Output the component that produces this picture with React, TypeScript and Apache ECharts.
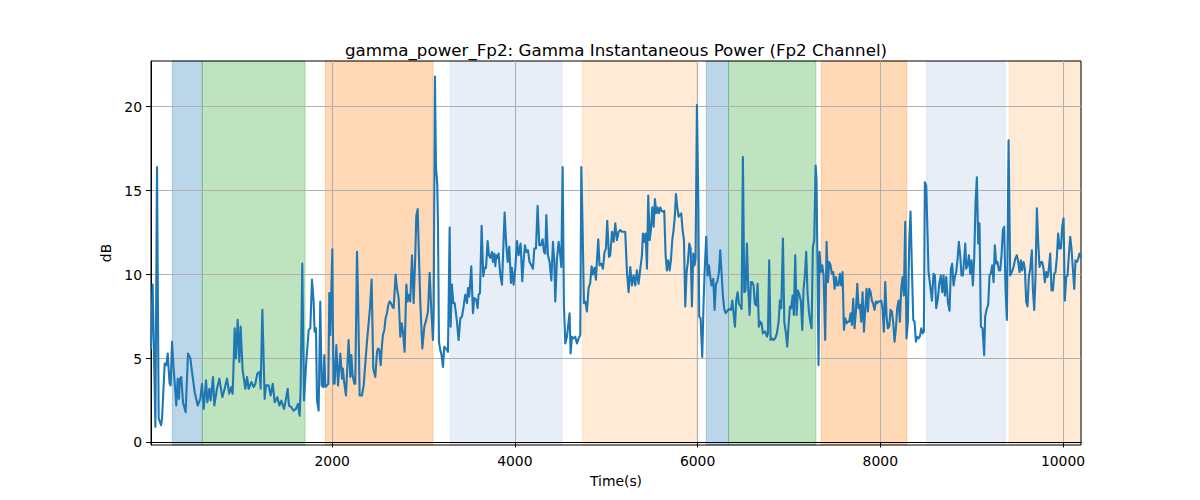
import React, { useEffect, useRef } from "react";
import * as echarts from "echarts";

const TITLE = "gamma_power_Fp2: Gamma Instantaneous Power (Fp2 Channel)";
const X_LABEL = "Time(s)";
const Y_LABEL = "dB";
const X_TICKS = [2000, 4000, 6000, 8000, 10000];
const Y_TICKS = [0, 5, 10, 15, 20];
const X_RANGE = [17, 10197];
const Y_RANGE = [-0.15, 22.72];

const times = [
  17,35,65,83,101,127,138,167,185,200,210,221,232,247,265,294,309,323,334,349,
  367,396,422,448,466,495,528,557,575,594,619,634,656,670,696,710,739,765,798,823,
  849,874,896,911,933,947,966,984,998,1020,1050,1068,1086,1115,1141,1159,1181,1206,1217,1236,
  1261,1276,1305,1327,1349,1371,1400,1422,1443,1473,1495,1513,1527,1553,1578,1604,1626,1644,1655,1673,
  1692,
  1714,1743,1761,1779,1797,1808,1823,1834,1852,1870,1885,1900,1914,1925,1943,1958,1969,1980,1991,2002,
  2009,2016,2027,2046,2064,2089,2108,2118,2129,2151,2180,2199,2210,2224,2243,2253,2272,2283,2301,2326,
  2345,2381,2414,2432,2450,2472,2491,2502,2516,2531,2545,2556,2571,2585,2600,2615,2629,2644,2658,2673,
  2695,2709,2728,2746,2761,2775,2793,2812,2826,2841,2855,2874,2892,2910,2921,2936,2950,2965,2987,3009,
  3030,3049,3067,3081,3103,3111,3125,3136,3151,3158,3169,3184,3198,3213,3227,3246,3268,3286,3297,3311,
  3326,3341,
  3366,3384,3403,3421,3439,3457,3476,3487,3501,3523,3541,3556,3578,3592,3603,3618,3636,3654,3669,3684,
  3702,3716,3731,3749,3760,3775,3786,3797,3811,3822,3840,3859,3877,3888,3902,3921,3939,3957,3968,3986,
  4005,4023,4041,4063,4081,4096,4110,4125,4143,4161,4180,4198,4213,4231,4249,4267,4285,4304,4318,4333,
  4344,4362,4380,4399,4417,4432,4442,4461,4479,4497,4508,4523,4537,4552,4570,4588,4599,4610,4625,4643,
  4661,4680,4698,4716,4727,4741,4756,4771,4789,4807,4825,4840,4855,4873,4887,4902,4913,4927,4946,4964,
  4982,4997,5011,5030,
  5044,5063,5081,5099,5117,5136,5154,5172,5190,5208,5227,5245,5263,5281,5300,5318,5336,5354,5373,5391,
  5402,5416,5431,5446,5460,5475,5489,5504,5519,5533,5548,5562,5577,5592,5606,5621,5635,5650,5664,5679,
  5694,5708,5723,5737,5752,5763,5778,5792,5807,5821,5836,5851,5865,5880,5894,5909,5924,5938,5953,5967,
  5978,5993,6008,6018,6033,6051,6066,6080,6095,6110,6124,6139,6153,6172,6186,6201,6215,6234,6248,6263,
  6277,6292,6307,6321,6343,6365,6380,6394,6409,6423,6438,6452,6467,6482,6496,6511,6525,6540,6555,6569,
  6584,6598,6613,6627,6642,6657,6671,6686,6701,6715,6730,
  6741,6759,6770,6784,6799,6814,6832,6850,6868,6887,6901,6916,6934,6949,6967,6981,6996,7011,7025,7040,
  7054,7069,7084,7098,7113,7131,7146,7160,7175,7189,7204,7219,7233,7248,7262,7277,7292,7302,7313,7324,
  7335,7350,7365,7379,7397,7412,7427,7441,7456,7470,7485,7500,7514,7529,7543,7558,7572,7587,7602,7616,
  7631,7645,7660,7675,7689,7704,7718,7733,7748,7762,7777,7791,7806,7821,7835,7850,7864,7879,7894,7908,
  7923,7937,7952,7966,7981,7996,8010,8025,8039,8054,8069,8083,8098,8112,8127,8142,8156,8171,8185,8200,
  8214,8229,8244,8258,8273,8287,8302,8317,8331,8346,8361,8375,8390,8404,8419,8433,8448,8463,8477,
  8488,8503,8528,8546,8565,8583,8598,8612,8630,8645,8663,8678,8692,8707,8722,8740,8758,8773,8787,8802,
  8816,8831,8846,8860,8875,8889,8904,8919,8930,8941,8955,8970,8984,8999,9013,9028,9043,9057,9072,9086,
  9101,9119,9137,9148,9167,9181,9196,9210,9225,9240,9254,9269,9283,9298,9313,9327,9342,9356,9371,9386,
  9404,9422,9440,9459,9477,9495,9510,9524,9539,9553,9568,9583,9597,9612,9626,9641,9659,9670,9685,9699,
  9714,9728,9743,9758,9772,9787,9801,9816,9831,9845,9860,9874,9889,9904,9918,9933,9947,9962,9977,9991,
  10006,10020,10035,10050,10064,10079,10093,10108,10123,10137,10152,10167,10181,10195,
];

const values = [
  5.6,9.4,0.93,16.4,1.43,1.03,1.43,4.7,4.6,5.3,4.4,3.5,3.4,6.0,4.4,2.2,3.8,2.6,3.8,3.9,
  2.4,1.8,5.3,5.0,4.2,3.0,2.2,2.6,3.5,2.0,3.7,2.4,3.2,2.5,3.9,2.2,3.2,3.8,2.7,3.2,
  3.8,2.9,3.3,2.9,6.8,5.0,7.3,4.8,6.9,4.3,3.2,3.9,3.2,3.6,3.3,3.5,4.1,4.2,3.2,7.9,
  2.6,3.4,3.4,2.8,3.5,2.4,2.7,2.2,2.5,2.0,2.6,3.2,2.2,2.1,1.9,2.0,2.3,1.6,3.2,10.65,
  2.5,
  4.6,6.7,6.8,9.7,8.4,6.6,6.8,2.5,1.9,8.4,3.4,3.3,5.2,3.3,3.4,3.5,8.9,6.4,9.0,11.5,
  6.4,3.5,3.5,5.8,3.4,5.3,3.8,4.4,3.7,2.8,6.1,3.9,5.2,4.0,3.5,3.5,11.35,8.8,2.8,2.8,
  3.4,6.0,8.0,9.7,4.4,3.9,5.4,5.6,5.5,4.6,5.8,6.4,6.7,7.4,7.7,8.2,8.4,8.3,8.1,8.0,
  10.0,9.2,8.6,6.3,7.1,6.6,5.4,9.4,8.4,8.8,8.4,11.15,8.3,11.15,13.5,13.9,11.15,8.3,5.6,6.9,
  7.3,7.8,10.1,8.4,6.1,7.6,21.8,16.5,15.3,13.1,6.0,5.5,5.2,4.5,5.7,5.6,5.4,12.8,6.9,9.4,
  8.3,8.3,
  7.2,6.1,7.4,7.5,8.1,8.8,8.3,9.2,8.7,10.5,7.7,8.6,8.5,8.0,8.8,8.9,12.9,9.9,10.4,10.4,
  12.0,11.15,11.0,11.35,10.75,11.25,10.5,11.15,11.0,11.25,10.0,9.4,12.1,13.7,12.1,10.75,11.65,9.5,10.4,9.4,
  10.4,12.0,11.15,11.85,9.6,10.85,11.75,11.35,11.45,10.75,10.55,10.35,11.55,11.55,14.1,11.75,11.75,12.1,11.35,11.25,
  13.55,11.15,10.75,9.65,11.95,10.75,8.4,10.95,11.95,11.15,10.45,16.4,8.2,5.9,6.3,7.2,7.7,5.3,6.3,6.2,
  6.3,5.9,6.2,6.4,16.4,12.9,8.3,8.4,7.8,9.2,9.5,10.5,10.0,10.4,9.7,11.15,12.1,10.55,10.65,10.35,
  11.35,11.55,13.2,11.05,
  11.15,12.55,11.95,13.05,12.05,12.55,12.65,12.55,12.55,12.55,10.15,8.95,10.45,9.35,9.95,9.35,10.25,9.45,10.35,11.15,
  12.45,11.95,12.45,10.35,14.7,12.05,12.65,14.0,12.85,14.5,13.65,14.0,13.65,14.0,13.8,13.75,13.8,11.15,10.25,10.85,
  10.25,10.85,12.05,12.65,13.55,14.8,14.0,13.45,13.55,13.65,12.65,12.05,8.1,10.15,10.75,11.85,11.55,8.1,11.25,10.55,
  10.95,20.1,14.3,7.5,7.4,5.1,8.4,10.55,12.25,9.95,10.55,9.85,9.35,9.75,7.9,9.45,9.55,10.15,11.45,10.05,
  8.75,7.95,7.7,7.8,7.95,7.9,8.45,7.7,6.9,8.45,8.95,8.25,8.15,7.95,17.0,8.95,9.05,11.85,9.15,7.6,
  9.55,9.55,9.35,8.25,8.15,9.45,6.9,7.2,7.1,6.5,6.6,
  6.6,6.3,6.5,10.85,6.1,6.2,6.1,6.2,6.5,7.2,8.45,8.0,12.15,7.2,6.5,5.7,7.0,8.1,8.0,8.75,
  7.6,11.15,7.6,9.05,8.85,8.4,6.7,9.15,9.95,11.35,8.85,7.8,7.2,6.8,11.65,12.05,16.5,15.6,10.15,4.6,
  11.35,10.15,10.55,9.95,6.1,11.95,9.55,10.75,10.55,10.05,10.15,9.15,9.85,9.35,9.35,10.05,9.35,10.15,6.7,7.4,
  7.1,7.2,7.2,7.7,7.0,8.55,6.8,7.8,9.45,8.0,8.2,7.2,8.95,6.6,7.9,9.15,7.8,9.15,8.95,8.45,
  8.25,7.9,8.4,8.3,8.4,8.4,8.45,8.0,6.6,9.55,7.5,6.8,6.9,7.9,7.8,7.1,6.0,6.8,8.0,8.45,
  7.2,9.15,9.85,8.75,13.15,6.2,7.2,11.95,13.75,10.35,7.3,7.2,6.0,6.3,6.2,6.3,6.8,6.5,6.6,
  15.5,15.3,10.15,9.35,8.45,10.05,9.95,8.0,8.55,9.45,9.95,8.95,9.95,8.75,9.85,8.35,7.85,10.35,10.65,9.35,
  9.85,10.15,10.95,11.95,11.15,9.95,9.95,10.95,11.85,10.35,10.55,11.15,10.05,10.85,9.35,10.95,14.3,15.8,11.85,13.05,
  6.9,6.8,5.2,7.5,8.0,8.2,9.95,10.05,10.55,9.55,11.75,10.65,10.75,10.25,10.25,11.15,12.65,12.85,9.15,7.3,
  18.0,9.95,10.15,10.45,10.95,11.15,10.75,10.15,10.85,10.25,10.75,10.35,8.4,8.1,9.85,10.35,11.45,9.15,7.9,9.85,
  13.95,11.95,10.45,10.75,10.75,10.35,9.55,10.15,9.85,10.35,11.25,9.05,9.05,10.05,10.15,11.05,12.45,11.55,11.55,12.85,
  13.35,8.45,9.85,9.95,11.15,12.25,11.55,10.35,9.15,10.85,10.75,10.95,11.25,11.05,
];

// shaded intervals (start, end, kind)
const spanStarts = [250, 579, 1925, 3293, 4738, 6095, 6339, 7354, 8504, 9411];
const spanEnds = [579, 1703, 3104, 4516, 5990, 6339, 7295, 8291, 9367, 10197];
const spanKinds = ["blue", "green", "orange", "lightblue", "lightorange", "blue", "green", "orange", "lightblue", "lightorange"];

const KIND_COLORS: Record<string, string> = {
  blue: "rgba(31,119,180,0.3)",
  green: "rgba(44,160,44,0.3)",
  orange: "rgba(255,127,14,0.3)",
  lightblue: "rgba(174,199,232,0.3)",
  lightorange: "rgba(255,187,120,0.3)",
};

const FONT = "DejaVu Sans";

export default function App() {
  const ref = useRef<HTMLDivElement>(null);

  useEffect(() => {
    document.body.style.margin = "0";
    if (!ref.current) return;
    const chart = echarts.init(ref.current, undefined, { renderer: "svg" });

    const lineData = times.map((t, i) => [t, values[i]]);
    const areas = spanStarts.map((s, i) => {
      const c = KIND_COLORS[spanKinds[i]];
      return [
        { xAxis: s, itemStyle: { color: c, borderColor: c, borderWidth: 1 } },
        { xAxis: spanEnds[i] },
      ];
    });

    chart.setOption({
      animation: false,
      backgroundColor: "#ffffff",
      title: {
        text: TITLE,
        left: 611,
        top: 36,
        textAlign: "center",
        textStyle: { fontFamily: FONT, fontSize: 16.7, fontWeight: "normal", color: "#000" },
      },
      grid: {
        left: 151,
        top: 61,
        right: 119,
        bottom: 55,
        show: true,
        z: 2,
        borderColor: "#000",
        borderWidth: 1,
        backgroundColor: "transparent",
      },
      xAxis: {
        type: "value",
        z: 2,
        min: X_RANGE[0],
        max: X_RANGE[1],
        name: X_LABEL,
        nameLocation: "middle",
        nameGap: 29,
        nameTextStyle: { fontFamily: FONT, fontSize: 13.9, color: "#000" },
        axisLine: { show: true, lineStyle: { color: "#000", width: 1 } },
        axisTick: { show: true, length: 5, lineStyle: { color: "#000", width: 1 }, customValues: X_TICKS },
        axisLabel: {
          customValues: X_TICKS,
          margin: 9,
          fontFamily: FONT,
          fontSize: 13.9,
          color: "#000",
          formatter: (v: number) => String(v),
        },
        splitLine: { show: true, lineStyle: { color: "#b0b0b0", width: 1.1 } },
      },
      yAxis: {
        type: "value",
        z: 2,
        min: Y_RANGE[0],
        max: Y_RANGE[1],
        name: Y_LABEL,
        nameLocation: "middle",
        nameGap: 31,
        nameRotate: 90,
        nameTextStyle: { fontFamily: FONT, fontSize: 13.9, color: "#000" },
        axisLine: { show: true, lineStyle: { color: "#000", width: 1 } },
        axisTick: { show: true, length: 5, lineStyle: { color: "#000", width: 1 }, customValues: Y_TICKS },
        axisLabel: {
          customValues: Y_TICKS,
          margin: 9,
          fontFamily: FONT,
          fontSize: 13.9,
          color: "#000",
          formatter: (v: number) => String(v),
        },
        splitLine: { show: true, lineStyle: { color: "#b0b0b0", width: 1.1 } },
      },
      series: [
        {
          type: "line",
          data: [],
          z: 1,
          silent: true,
          markArea: { silent: true, data: areas },
        },
        {
          type: "line",
          data: lineData,
          z: 3,
          showSymbol: false,
          symbol: "none",
          clip: true,
          lineStyle: { color: "#1f77b4", width: 2.1, join: "round", cap: "round" },
          itemStyle: { color: "#1f77b4" },
        },
      ],
    });

    return () => chart.dispose();
  }, []);

  return <div ref={ref} style={{ width: 1200, height: 500 }} />;
}
